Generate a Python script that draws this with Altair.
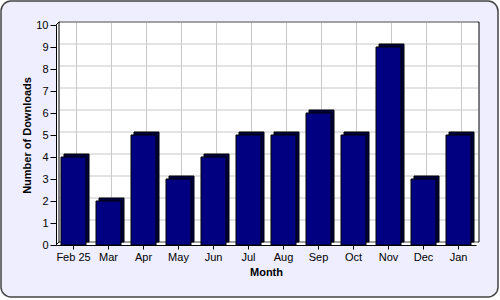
import altair as alt
import pandas as pd

months = ["Feb 25", "Mar", "Apr", "May", "Jun", "Jul", "Aug", "Sep", "Oct", "Nov", "Dec", "Jan"]
downloads = [4, 2, 5, 3, 4, 5, 5, 6, 5, 9, 3, 5]
y_ticks = list(range(0, 11))

df = pd.DataFrame({"Month": months, "Downloads": downloads})
grid_df = pd.DataFrame({"v": y_ticks})

W, H = 420, 220
D = 3  # 3D depth

xs = alt.Scale(domain=months, paddingInner=0.28, paddingOuter=0.14)
ys = alt.Scale(domain=[0, 10], nice=False)

x_axis = alt.Axis(title="Month", labelAngle=0, grid=False, domainColor="#000000",
                  tickColor="#000000", tickSize=4, labelPadding=2,
                  labelFontSize=11, labelColor="#000000", labelFont="Liberation Sans",
                  titleFont="Liberation Sans", titleFontSize=11, titleFontWeight="bold",
                  titleColor="#000000", titlePadding=4, zindex=2)
y_axis = alt.Axis(title="Number of Downloads", values=y_ticks, grid=False,
                  domainColor="#000000", tickColor="#000000", tickSize=6,
                  labelPadding=2, labelFontSize=11, labelColor="#000000",
                  labelFont="Liberation Sans", titleFont="Liberation Sans",
                  titleFontSize=11, titleFontWeight="bold", titleColor="#000000",
                  titlePadding=3, zindex=2)

X = alt.X("Month:N", scale=xs, sort=months, axis=x_axis)
Y = alt.Y("Downloads:Q", scale=ys, axis=y_axis)

base = alt.Chart(df)
one = "datum.Month == 'Feb 25'"

# outer rounded panel
panel = base.mark_rect(fill="#EEEEFF", stroke="#444444", strokeWidth=1.5, cornerRadius=10).encode(
    x=alt.value(-55), x2=alt.value(W + 22), y=alt.value(-24), y2=alt.value(H + 52)
).transform_filter(one)

# plot white area (floor + wall)
plot_bg = base.mark_rect(fill="white").encode(
    x=alt.value(0), x2=alt.value(W + D), y=alt.value(-D), y2=alt.value(H)
).transform_filter(one)

# back wall outline
wall = base.mark_rect(fill="white", stroke="#000000", strokeWidth=1).encode(
    x=alt.value(D), x2=alt.value(W + D), y=alt.value(-D), y2=alt.value(H - D)
).transform_filter(one)

hgrid = alt.Chart(grid_df).mark_rule(color="#C8C8C8", strokeWidth=1, yOffset=-D).encode(
    y=alt.Y("v:Q", scale=ys, axis=y_axis),
    x=alt.value(D + 1), x2=alt.value(W + D - 1)
)

vgrid = base.mark_rule(color="#C8C8C8", strokeWidth=1, xOffset=D).encode(
    x=X,
    y=alt.value(-D + 1), y2=alt.value(H - D)
)

# floor/wall connectors
left_diag = base.mark_rule(color="#000000").encode(
    x=alt.value(0), x2=alt.value(D), y=alt.value(H), y2=alt.value(H - D)
).transform_filter(one)
top_diag = base.mark_rule(color="#000000").encode(
    x=alt.value(0), x2=alt.value(D), y=alt.value(0), y2=alt.value(-D)
).transform_filter(one)

back_bars = base.mark_bar(color="#000040", stroke="#000000", strokeWidth=1, size=25,
                          xOffset=D, yOffset=-D).encode(x=X, y=Y)

front_bars = base.mark_bar(color="#000080", stroke="#000000", strokeWidth=1, size=25).encode(x=X, y=Y)

chart = alt.layer(panel, plot_bg, wall, hgrid, vgrid, left_diag, top_diag, back_bars, front_bars).properties(
    width=W, height=H,
    autosize=alt.AutoSizeParams(type="none"),
    padding={"left": 56, "top": 25, "right": 24, "bottom": 55},
    background="white",
).configure_view(stroke=None)

chart.save("out.html", embed_options={"renderer": "svg", "actions": False})
